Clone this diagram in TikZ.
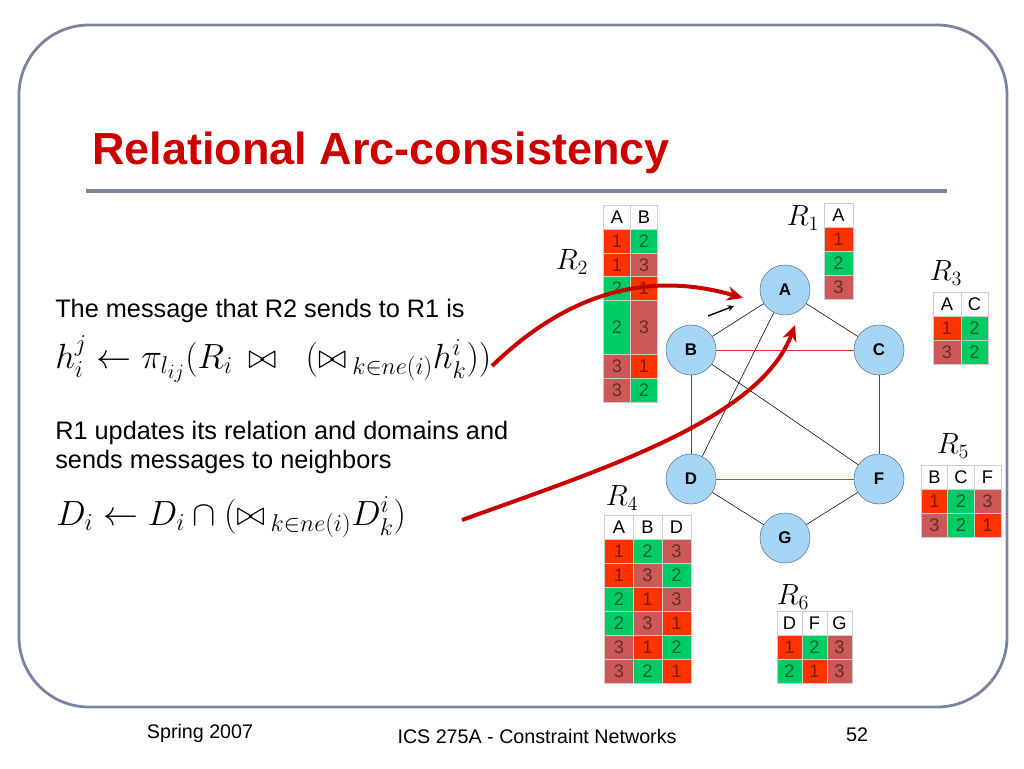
\documentclass[tikz,border=0pt]{standalone}
\usepackage{amsmath,amssymb}
\usepackage[no-math]{fontspec}
\setmainfont{Liberation Sans}
\usetikzlibrary{arrows.meta}
\definecolor{slide}{RGB}{122,132,160}
\definecolor{titlered}{RGB}{204,0,0}
\definecolor{cellred}{RGB}{255,51,0}
\definecolor{cellgreen}{RGB}{0,204,102}
\definecolor{cellmute}{RGB}{205,88,88}
\definecolor{nodeblue}{RGB}{166,214,246}
\definecolor{nodeedge}{RGB}{95,115,145}
\definecolor{arcred}{RGB}{200,0,0}
\definecolor{edgered}{RGB}{220,50,50}

\begin{document}
\begin{tikzpicture}[x=0.25mm, y=-0.25mm, >=stealth,
  var/.style={circle, draw=nodeedge, fill=nodeblue, minimum size=12.5mm, inner sep=0pt, font=\bfseries\fontsize{12}{14}\selectfont},
  cell/.style={draw=gray!40, line width=0.3pt, minimum height=6mm, inner sep=0pt, text=black, text opacity=0.5, font=\fontsize{13}{15}\selectfont},
  head/.style={cell, fill=white, text opacity=1},
  rd/.style={cell, fill=cellred}, gr/.style={cell, fill=cellgreen}, mu/.style={cell, fill=cellmute},
  rlab/.style={font=\fontsize{22}{26}\selectfont},
  arc/.style={draw=arcred, line width=1mm, -{Stealth[length=4mm, width=3.6mm]}}]
  \useasboundingbox (0,0) rectangle (1024,768);
  % slide frame and title
  \draw[slide, line width=2pt, rounded corners=17.5mm] (19,25) rectangle (1007,707);
  \node[anchor=base west, inner sep=0pt, text=titlered, font=\bfseries\fontsize{32}{38}\selectfont] (title) at (92,164) {Relational Arc-consistency};
  \draw[slide, line width=3pt] (86,191) -- (947,191);
  % text and formulas
  \node[anchor=base west, inner sep=0pt, font=\fontsize{18}{22}\selectfont] (say) at (55,317) {The message that R2 sends to R1 is};
  \node[anchor=base west, font=\fontsize{27}{32}\selectfont, inner sep=0pt] (msg) at (55,368)
    {$h_i^j \leftarrow \pi_{l_{ij}}(R_i \,\bowtie\;\; (\mathord{\bowtie}\,{}_{k\in ne(i)} h_k^i))$};
  \node[anchor=base west, inner sep=0pt, font=\fontsize{18}{22}\selectfont] (upd1) at (55,439) {R1 updates its relation and domains and};
  \node[anchor=base west, inner sep=0pt, font=\fontsize{18}{22}\selectfont] (upd2) at (55,468) {sends messages to neighbors};
  \node[anchor=base west, font=\fontsize{26}{30}\selectfont, inner sep=0pt] (upd) at (56,525)
    {$D_i \leftarrow D_i \cap (\mathord{\bowtie}\,{}_{k\in ne(i)} D_k^i)$};
  % footer
  \node[font=\fontsize{14}{16}\selectfont] (when) at (200,733) {Spring 2007};
  \node[font=\fontsize{14}{16}\selectfont] (course) at (537,736) {ICS 275A - Constraint Networks};
  \node[font=\fontsize{14}{16}\selectfont] (page) at (857,735) {52};

  % constraint graph
  \node[var] (A) at (785,290) {A};
  \node[var] (B) at (691,350) {B};
  \node[var] (C) at (879,350) {C};
  \node[var] (D) at (691,479) {D};
  \node[var] (F) at (879,479) {F};
  \node[var] (G) at (785,538) {G};
  \draw (A) -- (B); \draw (A) -- (C); \draw (A) -- (D); \draw (B) -- (F);
  \draw[black!70] (B) -- (D); \draw[black!70] (C) -- (F);
  \draw (D) -- (G); \draw (F) -- (G);
  \draw[edgered] (B) -- (C); \draw[edgered] (D) -- (F);
  \coordinate (p) at (708,316); \coordinate (q) at (734,306);
  \draw[->, line width=1pt] (p) -- (q);

  % R1
  \node[rlab] (lab1) at (803,218) {$R_1$};
  \begin{scope}[cell/.append style={minimum width=7.25mm}]
    \node[head] (r1h) at (838.5,215) {A};
    \node[rd] (r1a1) at (838.5,239) {1};
    \node[gr] (r1a2) at (838.5,263) {2};
    \node[mu] (r1a3) at (838.5,287) {3};
  \end{scope}
  % R2
  \node[rlab] (lab2) at (572,262) {$R_2$};
  \begin{scope}[cell/.append style={minimum width=6.75mm}]
    \node[head] (r2h1) at (617,217) {A}; \node[head] (r2h2) at (644,217) {B};
    \node[rd] (r2a1) at (617,241) {1}; \node[gr] (r2b1) at (644,241) {2};
    \node[rd] (r2a2) at (617,265) {1}; \node[mu] (r2b2) at (644,265) {3};
    \node[gr] (r2a3) at (617,288.5) {2}; \node[rd] (r2b3) at (644,288.5) {1};
    \node[gr, minimum height=13.5mm] (r2a4) at (617,327) {2}; \node[mu, minimum height=13.5mm] (r2b4) at (644,327) {3};
    \node[mu] (r2a5) at (617,366) {3}; \node[rd] (r2b5) at (644,366) {1};
    \node[mu] (r2a6) at (617,390) {3}; \node[gr] (r2b6) at (644,390) {2};
  \end{scope}
  % R3
  \node[rlab] (lab3) at (946,273) {$R_3$};
  \begin{scope}[cell/.append style={minimum width=6.9mm}]
    \node[head] (r3h1) at (947,304) {A}; \node[head] (r3h2) at (974.5,304) {C};
    \node[rd] (r3a1) at (947,328) {1}; \node[gr] (r3c1) at (974.5,328) {2};
    \node[mu] (r3a2) at (947,352) {3}; \node[gr] (r3c2) at (974.5,352) {2};
  \end{scope}
  % R5
  \node[rlab] (lab5) at (953,446) {$R_5$};
  \begin{scope}[cell/.append style={minimum width=6.7mm}]
    \node[head] (r5h1) at (934.5,477) {B}; \node[head] (r5h2) at (961,477) {C}; \node[head] (r5h3) at (987.5,477) {F};
    \node[rd] (r5b1) at (934.5,501) {1}; \node[gr] (r5c1) at (961,501) {2}; \node[mu] (r5f1) at (987.5,501) {3};
    \node[mu] (r5b2) at (934.5,525) {3}; \node[gr] (r5c2) at (961,525) {2}; \node[rd] (r5f2) at (987.5,525) {1};
  \end{scope}
  % R4
  \node[rlab] (lab4) at (622,498) {$R_4$};
  \begin{scope}[cell/.append style={minimum width=7.15mm}]
    \node[head] (r4h1) at (619,527) {A}; \node[head] (r4h2) at (647.5,527) {B}; \node[head] (r4h3) at (676.5,527) {D};
    \node[rd] (r4a1) at (619,551) {1}; \node[gr] (r4b1) at (647.5,551) {2}; \node[mu] (r4d1) at (676.5,551) {3};
    \node[rd] (r4a2) at (619,575) {1}; \node[mu] (r4b2) at (647.5,575) {3}; \node[gr] (r4d2) at (676.5,575) {2};
    \node[gr] (r4a3) at (619,599) {2}; \node[rd] (r4b3) at (647.5,599) {1}; \node[mu] (r4d3) at (676.5,599) {3};
    \node[gr] (r4a4) at (619,623) {2}; \node[mu] (r4b4) at (647.5,623) {3}; \node[rd] (r4d4) at (676.5,623) {1};
    \node[mu] (r4a5) at (619,647) {3}; \node[rd] (r4b5) at (647.5,647) {1}; \node[gr] (r4d5) at (676.5,647) {2};
    \node[mu] (r4a6) at (619,671) {3}; \node[gr] (r4b6) at (647.5,671) {2}; \node[rd] (r4d6) at (676.5,671) {1};
  \end{scope}
  % R6
  \node[rlab] (lab6) at (793,597) {$R_6$};
  \begin{scope}[cell/.append style={minimum width=6.25mm}]
    \node[head] (r6h1) at (789.5,623) {D}; \node[head] (r6h2) at (814.5,623) {F}; \node[head] (r6h3) at (839.5,623) {G};
    \node[rd] (r6d1) at (789.5,647) {1}; \node[gr] (r6f1) at (814.5,647) {2}; \node[mu] (r6g1) at (839.5,647) {3};
    \node[gr] (r6d2) at (789.5,671) {2}; \node[rd] (r6f2) at (814.5,671) {1}; \node[mu] (r6g2) at (839.5,671) {3};
  \end{scope}

  % messages
  \coordinate (m1) at (492,366); \coordinate (t1) at (743,298);
  \coordinate (m2) at (462,520); \coordinate (t2) at (795,325);
  \draw[arc] (m1) .. controls (560,300) and (640,268) .. (t1);
  \draw[arc] (m2) .. controls (600,470) and (760,420) .. (t2);
\end{tikzpicture}
\end{document}
